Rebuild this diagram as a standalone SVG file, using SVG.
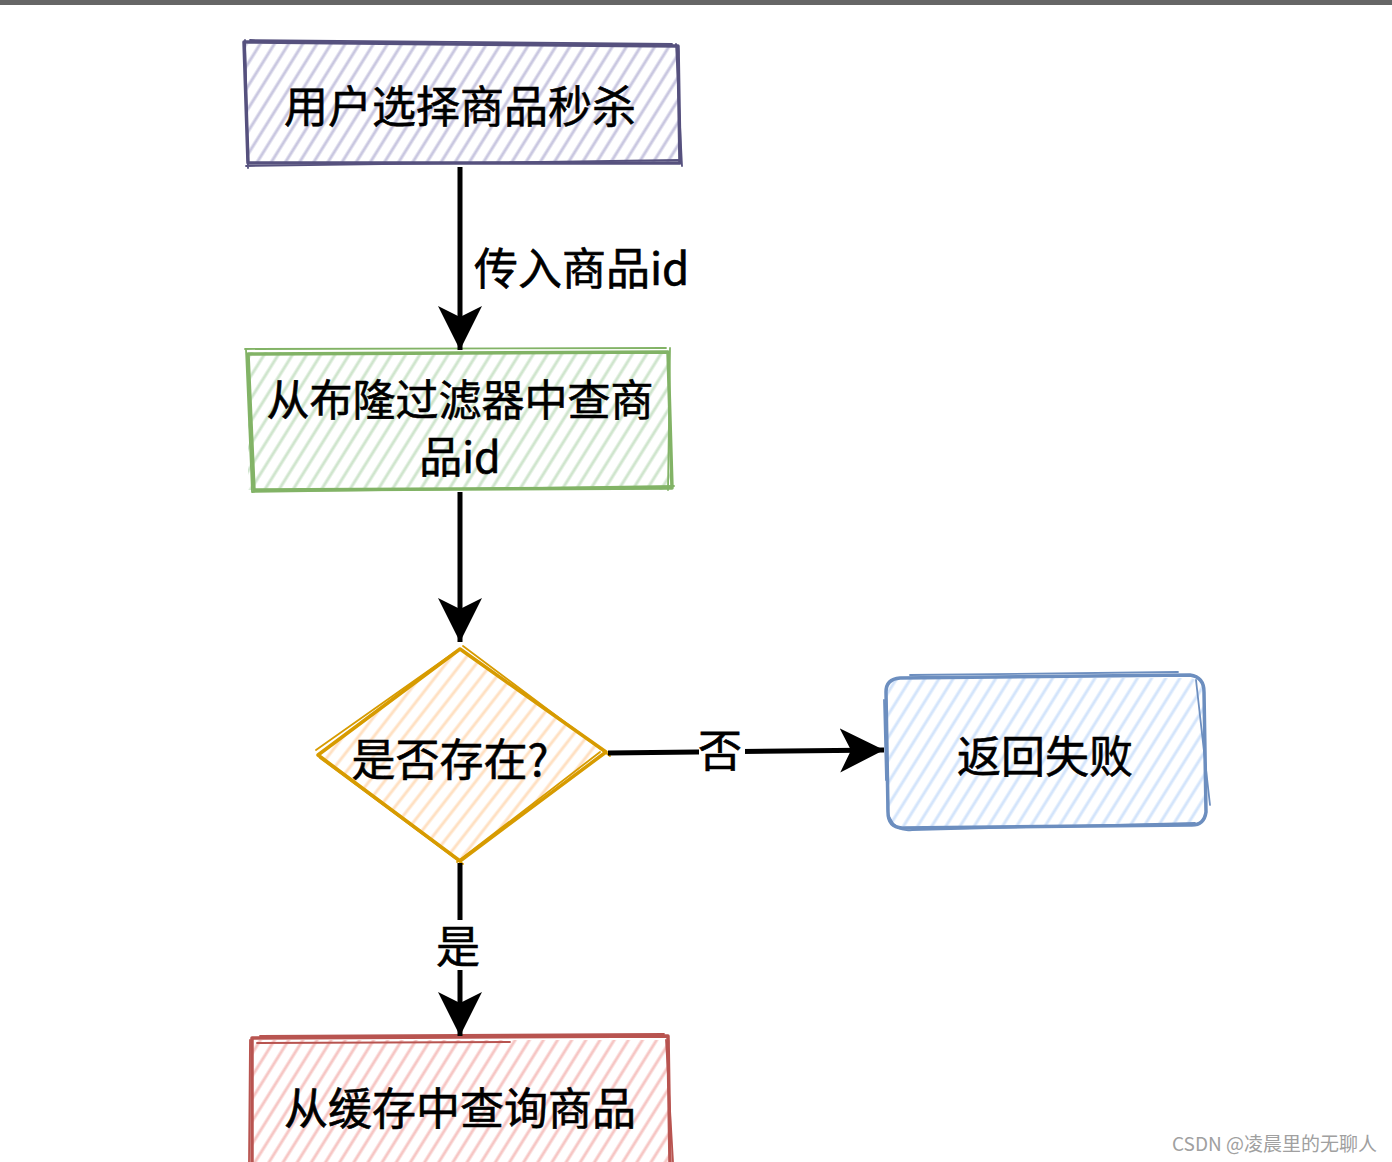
<svg xmlns="http://www.w3.org/2000/svg" width="1392" height="1162" viewBox="0 0 1392 1162">
<style>
.t{font-family:"Noto Sans CJK SC","Liberation Sans",sans-serif;font-size:44px;fill:#000;text-anchor:middle;dominant-baseline:central;stroke:#000;stroke-width:0.6}
.t2{font-size:43px}
.lbl{font-family:"Noto Sans CJK SC","Liberation Sans",sans-serif;font-size:44px;fill:#000;dominant-baseline:central;stroke:#000;stroke-width:0.6}
.ln{stroke:#000;stroke-width:5;fill:none}
.sk{fill:none;stroke-width:3.5;stroke-linejoin:round;stroke-linecap:round}
.sk2{fill:none;stroke-width:1.8;stroke-linecap:round}
</style>
<defs>
<pattern id="hp" width="12" height="12" patternUnits="userSpaceOnUse" patternTransform="rotate(32)"><line x1="4" y1="0" x2="4" y2="12" stroke="#c9c7e0" stroke-width="3"/></pattern>
<pattern id="hg" width="12" height="12" patternUnits="userSpaceOnUse" patternTransform="rotate(32)"><line x1="4" y1="0" x2="4" y2="12" stroke="#cfe5cd" stroke-width="3"/></pattern>
<pattern id="ho" width="12" height="12" patternUnits="userSpaceOnUse" patternTransform="rotate(38)"><line x1="4" y1="0" x2="4" y2="12" stroke="#ffe0c2" stroke-width="3"/></pattern>
<pattern id="hb" width="12" height="12" patternUnits="userSpaceOnUse" patternTransform="rotate(32)"><line x1="4" y1="0" x2="4" y2="12" stroke="#d3e4fb" stroke-width="3"/></pattern>
<pattern id="hr" width="12" height="12" patternUnits="userSpaceOnUse" patternTransform="rotate(32)"><line x1="4" y1="0" x2="4" y2="12" stroke="#f6c6c4" stroke-width="3"/></pattern>
<marker id="ah" markerUnits="userSpaceOnUse" markerWidth="46" markerHeight="46" viewBox="0 0 46 46" refX="44" refY="23" orient="auto"><path d="M0,1 L44,23 L0,45 L11,23 Z" fill="#000"/></marker>
</defs>
<rect x="0" y="0" width="1392" height="1162" fill="#fff"/>
<rect x="0" y="0" width="1392" height="5" fill="#666"/>

<g id="n1">
<rect x="246" y="44" width="434" height="120" fill="url(#hp)"/>
<path class="sk" stroke="#56517e" d="M244,42 L678,46 L680,163 L248,163 Z"/>
<path class="sk2" stroke="#56517e" d="M250,40 L672,44 M676,44 L682,166 M246,166 L680,160 M245,40 L248,168"/>
<text class="t" x="460" y="104">用户选择商品秒杀</text>
</g>

<g id="n2">
<rect x="248" y="352" width="422" height="138" fill="url(#hg)"/>
<path class="sk" stroke="#82b366" d="M248,354 L668,352 L672,488 L254,490 Z"/>
<path class="sk2" stroke="#82b366" d="M245,349 L666,348 M670,348 L668,490 M252,492 L674,486 M246,350 L252,492"/>
<text class="t t2" x="460" y="397">从布隆过滤器中查商</text>
<text class="t t2" x="460" y="454">品id</text>
</g>

<g id="n3">
<path d="M460,649 L606,752 L460,861 L318,755 Z" fill="url(#ho)"/>
<path class="sk" stroke="#d79b00" d="M460,649 L606,752 L460,861 L318,755 Z"/>
<path class="sk2" stroke="#d79b00" d="M455,652 L316,750 M463,646 L610,756 M600,752 L457,862 M320,758 L463,864"/>
<text class="t" x="450" y="757">是否存在?</text>
</g>

<g id="n4">
<rect x="886" y="678" width="318" height="148" rx="16" fill="url(#hb)"/>
<path class="sk" stroke="#6c8ebf" d="M900,678 L1190,675 Q1204,677 1204,692 L1206,812 Q1204,826 1190,825 L902,828 Q888,827 888,812 L886,692 Q886,679 900,678 Z"/>
<path class="sk2" stroke="#6c8ebf" d="M910,675 L1178,672 M1196,680 L1210,805 M890,818 Q896,832 912,830 L1195,823 M884,700 L886,780"/>
<text class="t" x="1045" y="754">返回失败</text>
</g>

<g id="n5">
<rect x="252" y="1040" width="418" height="122" fill="url(#hr)"/>
<path class="sk" stroke="#b85450" d="M252,1162 L252,1038 L668,1036 L670,1162"/>
<path class="sk2" stroke="#b85450" d="M257,1043 L510,1042 M260,1036 L664,1034 M666,1040 L673,1162 M250,1040 L249,1162"/>
<text class="t" x="460" y="1106">从缓存中查询商品</text>
</g>

<g id="edges">
<line class="ln" x1="460" y1="167" x2="460" y2="350" marker-end="url(#ah)"/>
<text class="lbl" x="474" y="266">传入商品id</text>
<line class="ln" x1="460" y1="492" x2="460" y2="642" marker-end="url(#ah)"/>
<line class="ln" x1="608" y1="753" x2="884" y2="750" marker-end="url(#ah)"/>
<rect x="699" y="726" width="46" height="48" fill="#fff"/>
<text class="lbl" x="720" y="748" text-anchor="middle">否</text>
<line class="ln" x1="460" y1="863" x2="460" y2="1036" marker-end="url(#ah)"/>
<rect x="436" y="920" width="46" height="50" fill="#fff"/>
<text class="lbl" x="458" y="944" text-anchor="middle">是</text>
</g>

<text x="1377" y="1142" font-family="'Noto Sans CJK SC','Liberation Sans',sans-serif" font-size="19" fill="#a0a0a0" text-anchor="end" dominant-baseline="central">CSDN @凌晨里的无聊人</text>
</svg>
